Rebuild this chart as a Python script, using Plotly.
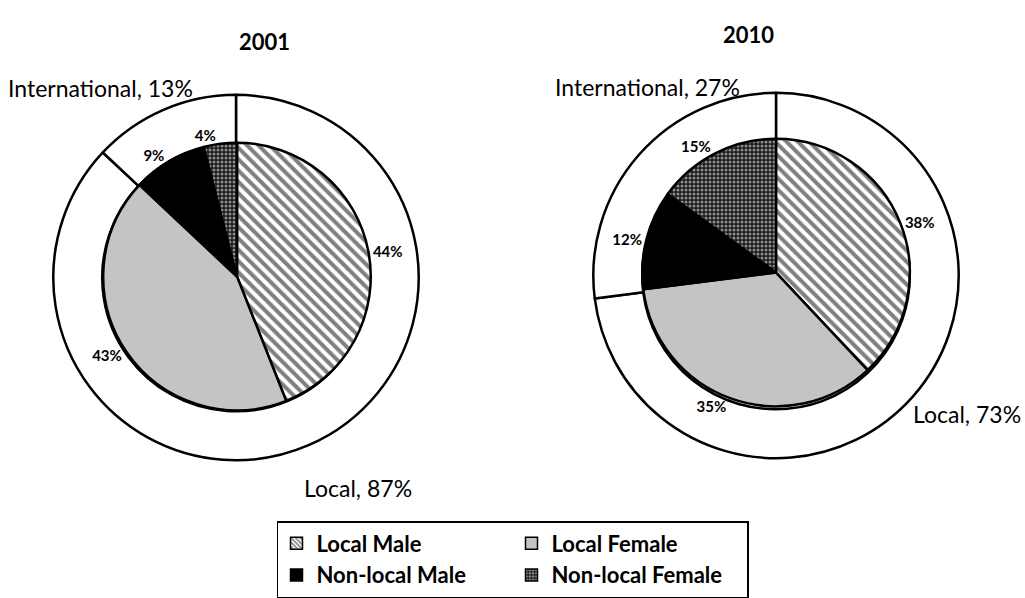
import plotly.graph_objects as go

# ---- data ----
years = ["2001", "2010"]
categories = ["Local Male", "Local Female", "Non-local Male", "Non-local Female"]
values_2001 = [44, 43, 9, 4]
values_2010 = [38, 35, 12, 15]
origin_labels = ["Local", "International"]
origin_2001 = [87, 13]
origin_2010 = [73, 27]

# ---- styles ----
W, H = 1025, 598
FONT = "Lato, 'Open Sans', sans-serif"
fill_colors = ["white", "#c4c4c4", "black", "#1a1a1a"]
pat_shapes = ["\\", "", "", "."]
pat_fg = ["black", "black", "black", "white"]
pat_sizes = [8, 8, 8, 4]
pat_solid = [0.5, 0.3, 0.3, 0.45]
legend_groups = ["c1", "c2", "c1", "c2"]


def dom(cx, cy, r):
    return dict(x=[(cx - r) / W, (cx + r) / W], y=[1 - (cy + r) / H, 1 - (cy - r) / H])


charts = [
    dict(year=years[0], inner=values_2001, outer=origin_2001,
         oc=(236, 278), ic=(237, 277)),
    dict(year=years[1], inner=values_2010, outer=origin_2010,
         oc=(776, 276), ic=(776, 273)),
]
R_OUT, R_IN = 183, 134

fig = go.Figure()
for ch in charts:
    fig.add_trace(go.Pie(
        labels=origin_labels, values=ch["outer"], domain=dom(*ch["oc"], R_OUT),
        hole=R_IN / R_OUT, sort=False, direction="clockwise", rotation=0,
        marker=dict(colors=["white", "white"], line=dict(color="black", width=2.5)),
        textinfo="none", showlegend=False, hoverinfo="label+percent",
    ))
    fig.add_trace(go.Pie(
        labels=categories, values=ch["inner"], domain=dom(*ch["ic"], R_IN),
        sort=False, direction="clockwise", rotation=0,
        marker=dict(colors=fill_colors, line=dict(color="black", width=2.5),
                    pattern=dict(shape=pat_shapes, size=pat_sizes, solidity=pat_solid,
                                 fgcolor=pat_fg, fillmode="overlay")),
        textposition="outside", texttemplate="<b>%{value}%</b>",
        textfont=dict(family=FONT, size=15, color="black"),
        showlegend=False,
    ))

# legend entries (patterned swatches)
for i, cat in enumerate(categories):
    fig.add_trace(go.Bar(
        x=[None], y=[None], name=f"<b>{cat}</b>", legendgroup=legend_groups[i],
        marker=dict(color=fill_colors[i], line=dict(color="black", width=1.5),
                    pattern=dict(shape=pat_shapes[i], size=4, solidity=0.5,
                                 fgcolor=pat_fg[i], fillmode="overlay")),
    ))

annotations = []
# year titles
for ch, (tx, ty) in zip(charts, [(237, 26), (776, 19)]):
    annotations.append(dict(text=f"<b>{ch['year']}</b>", x=tx / W, y=1 - ty / H,
                            xref="paper", yref="paper", showarrow=False,
                            font=dict(family=FONT, size=22, color="black")))
# outer ring labels (Local, International)
outer_pos = [
    [(302, 489), (6, 88)],
    [(911, 415), (553, 87)],
]
for ch, pos in zip(charts, outer_pos):
    for lab, val, (px, py) in zip(origin_labels, ch["outer"], pos):
        annotations.append(dict(text=f"{lab}, {val}%", x=px / W, y=1 - py / H,
                                xref="paper", yref="paper", showarrow=False,
                                xanchor="left", yanchor="middle",
                                font=dict(family=FONT, size=23, color="black")))

fig.update_layout(
    width=W, height=H,
    margin=dict(l=0, r=0, t=0, b=0),
    paper_bgcolor="white", plot_bgcolor="white",
    xaxis=dict(visible=False), yaxis=dict(visible=False),
    annotations=annotations,
    legend=dict(orientation="h", traceorder="grouped", x=0.5, xanchor="center",
                y=1 - 522 / H, yanchor="top", bordercolor="black", borderwidth=1.5,
                bgcolor="white", entrywidth=190, tracegroupgap=0,
                font=dict(family=FONT, size=22, color="black")),
    font=dict(family=FONT, color="black"),
)

fig.write_html("out.html", config={"displayModeBar": False},
               post_script="document.body.style.margin='0';")
